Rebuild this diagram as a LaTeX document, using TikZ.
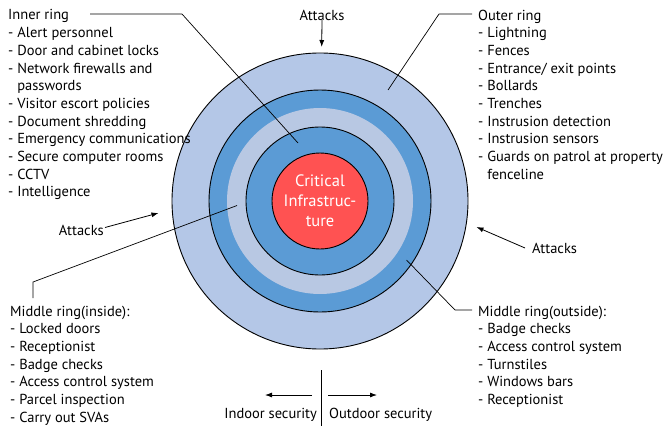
\documentclass[tikz,border=0pt]{standalone}
\usepackage{fontspec}
\setmainfont{PT Sans}
\usetikzlibrary{arrows.meta}
\definecolor{lightring}{HTML}{B4C7E7}
\definecolor{darkring}{HTML}{5B9BD5}
\definecolor{midlight}{HTML}{B8C8E3}
\definecolor{corered}{HTML}{FF5252}
\begin{document}
\begin{tikzpicture}[x=1pt,y=-1pt,
  ring/.style={circle, draw=black, line width=0.9pt, inner sep=0pt},
  listtext/.style={anchor=north west, inner sep=0pt, align=left, font=\fontsize{14.5}{17.7}\selectfont},
  plaintext/.style={inner sep=0pt, font=\fontsize{14.5}{17.7}\selectfont},
  leader/.style={line width=0.7pt},
  attackarrow/.style={-{Latex[length=7pt,width=5pt]}, line width=0.8pt}]
\useasboundingbox (0,0) rectangle (663,428);
\fill[white] (0,0) rectangle (663,428);

% rings
\node[ring, fill=lightring, minimum size=296pt] (outer) at (320,201) {};
\node[ring, fill=darkring, minimum size=222pt] (midout) at (320,201) {};
\node[circle, fill=midlight, minimum size=186pt, inner sep=0pt] (midin) at (320,201) {};
\node[ring, fill=darkring, minimum size=148pt] (inner) at (320,201) {};
\node[ring, fill=corered, minimum size=96pt, text=white, align=center,
      font=\fontsize{16.5}{20}\selectfont] (core) at (320,201) {Critical\\Infrastruc-\\ture};

% text blocks
\node[listtext] (innerlist) at (8,9.5) {Inner ring\\
- Alert personnel\\
- Door and cabinet locks\\
- Network firewalls and\\
\phantom{- }passwords\\
- Visitor escort policies\\
- Document shredding\\
- Emergency communications\\
- Secure computer rooms\\
- CCTV\\
- Intelligence};

\node[listtext] (outerlist) at (478,9.5) {Outer ring\\
- Lightning\\
- Fences\\
- Entrance/ exit points\\
- Bollards\\
- Trenches\\
- Instrusion detection\\
- Instrusion sensors\\
- Guards on patrol at property\\
\phantom{- }fenceline};

\node[listtext] (midinlist) at (10,305.5) {Middle ring(inside):\\
- Locked doors\\
- Receptionist\\
- Badge checks\\
- Access control system\\
- Parcel inspection\\
- Carry out SVAs};

\node[listtext] (midoutlist) at (478,305.5) {Middle ring(outside):\\
- Badge checks\\
- Access control system\\
- Turnstiles\\
- Windows bars\\
- Receptionist};

% leader lines
\coordinate (irA) at (90,14);
\coordinate (irB) at (182,14);
\coordinate (irC) at (298,143);
\draw[leader] (irA) -- (irB) -- (irC);

\coordinate (orA) at (472,14);
\coordinate (orB) at (439,14);
\coordinate (orC) at (388,90);
\draw[leader] (orA) -- (orB) -- (orC);

\coordinate (miA) at (33,298);
\coordinate (miB) at (33,282);
\coordinate (miC) at (237,205.5);
\draw[leader] (miA) -- (miB) -- (miC);

\coordinate (moA) at (472,310);
\coordinate (moB) at (455,310);
\coordinate (moC) at (406.5,260);
\draw[leader] (moA) -- (moB) -- (moC);

% attacks
\node[plaintext] (attop) at (322,15) {Attacks};
\coordinate (attopT) at (321.7,47);
\draw[attackarrow] (attop.south) ++(0,-0.5) -- (attopT);

\node[plaintext, anchor=east] (atleft) at (104,230) {Attacks};
\coordinate (atleftT) at (158.5,213);
\draw[attackarrow] (atleft.east) ++(1,-2.5) -- (atleftT);

\node[plaintext, anchor=west] (atright) at (532,248) {Attacks};
\coordinate (atrightT) at (476.5,227);
\draw[attackarrow] (atright.west) ++(-7,0) -- (atrightT);

% indoor / outdoor
\coordinate (divT) at (321,370);
\coordinate (divB) at (321,426);
\draw[line width=0.8pt] (divT) -- (divB);
\coordinate (inA) at (312,395);
\coordinate (inB) at (265,395);
\draw[attackarrow] (inA) -- (inB);
\coordinate (outA) at (328,395);
\coordinate (outB) at (377,395);
\draw[attackarrow] (outA) -- (outB);
\node[plaintext, anchor=east] (indoor) at (317,414.5) {Indoor security};
\node[plaintext, anchor=west] (outdoor) at (329,414.5) {Outdoor security};
\end{tikzpicture}
\end{document}
